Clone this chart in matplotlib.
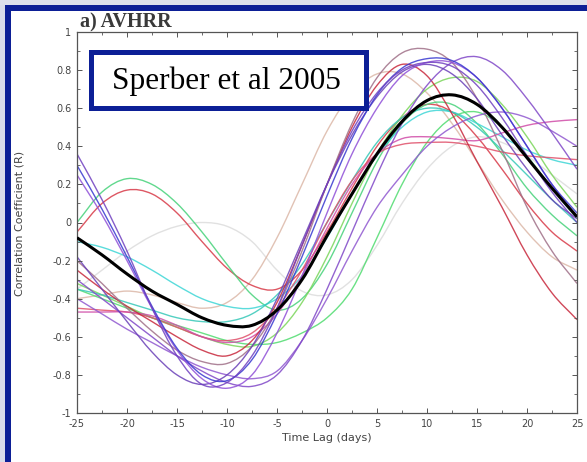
import matplotlib.pyplot as plt
from matplotlib.patches import Rectangle, PathPatch
from matplotlib.path import Path
import numpy as np

# lag axis (days), every 2.5 days
lags = [-25, -22.5, -20, -17.5, -15, -12.5, -10, -7.5, -5, -2.5, 0,
        2.5, 5, 7.5, 10, 12.5, 15, 17.5, 20, 22.5, 25]

# correlation curves of the individual models
purple1 = [0.36, 0.12, -0.15, -0.45, -0.70, -0.85, -0.84, -0.70, -0.45, -0.12, 0.20,
           0.48, 0.68, 0.80, 0.84, 0.82, 0.72, 0.55, 0.35, 0.16, 0.00]
blue1 = [0.30, 0.07, -0.18, -0.44, -0.66, -0.80, -0.83, -0.72, -0.48, -0.18, 0.14,
         0.44, 0.67, 0.81, 0.86, 0.85, 0.76, 0.60, 0.40, 0.20, 0.05]
purple2 = [0.25, 0.04, -0.20, -0.45, -0.67, -0.82, -0.87, -0.80, -0.58, -0.28, 0.05,
           0.36, 0.60, 0.77, 0.84, 0.84, 0.76, 0.60, 0.40, 0.20, 0.03]
purple3 = [-0.18, -0.35, -0.52, -0.68, -0.80, -0.85, -0.80, -0.65, -0.40, -0.10, 0.20,
           0.46, 0.66, 0.79, 0.83, 0.78, 0.65, 0.46, 0.28, 0.12, 0.02]
purple4 = [-0.30, -0.40, -0.50, -0.60, -0.70, -0.78, -0.84, -0.86, -0.80, -0.62, -0.35,
           -0.05, 0.25, 0.52, 0.72, 0.84, 0.87, 0.80, 0.65, 0.47, 0.28]
purple5 = [-0.40, -0.48, -0.56, -0.63, -0.70, -0.76, -0.80, -0.82, -0.78, -0.62, -0.40,
           -0.15, 0.08, 0.25, 0.40, 0.50, 0.56, 0.58, 0.55, 0.48, 0.40]
green1 = [0.00, 0.16, 0.23, 0.20, 0.10, -0.05, -0.22, -0.38, -0.46, -0.40, -0.22,
          0.05, 0.32, 0.52, 0.62, 0.62, 0.52, 0.36, 0.18, 0.04, -0.07]
green2 = [-0.32, -0.38, -0.44, -0.50, -0.55, -0.60, -0.64, -0.65, -0.58, -0.42, -0.18,
          0.10, 0.36, 0.56, 0.70, 0.76, 0.74, 0.62, 0.45, 0.25, 0.08]
green3 = [-0.35, -0.40, -0.45, -0.50, -0.54, -0.58, -0.62, -0.64, -0.63, -0.58, -0.50,
          -0.35, -0.08, 0.20, 0.42, 0.55, 0.58, 0.50, 0.35, 0.18, 0.02]
cyan1 = [-0.10, -0.13, -0.18, -0.25, -0.33, -0.40, -0.44, -0.45, -0.40, -0.28, -0.08,
         0.15, 0.35, 0.50, 0.58, 0.58, 0.52, 0.45, 0.38, 0.33, 0.30]
cyan2 = [-0.35, -0.38, -0.42, -0.46, -0.50, -0.52, -0.52, -0.48, -0.38, -0.22, 0.00,
         0.22, 0.42, 0.55, 0.60, 0.58, 0.50, 0.38, 0.25, 0.12, 0.00]
red1 = [-0.05, 0.10, 0.17, 0.15, 0.05, -0.10, -0.24, -0.33, -0.35, -0.25, -0.05,
        0.18, 0.40, 0.55, 0.62, 0.58, 0.45, 0.28, 0.10, -0.05, -0.15]
red2 = [-0.25, -0.35, -0.44, -0.52, -0.60, -0.67, -0.70, -0.62, -0.42, -0.12, 0.20,
        0.50, 0.72, 0.83, 0.77, 0.57, 0.32, 0.08, -0.17, -0.37, -0.51]
red3 = [-0.45, -0.46, -0.47, -0.50, -0.55, -0.60, -0.62, -0.58, -0.45, -0.25, 0.00,
        0.22, 0.36, 0.41, 0.42, 0.42, 0.40, 0.37, 0.35, 0.34, 0.33]
pink1 = [-0.47, -0.47, -0.47, -0.49, -0.54, -0.60, -0.63, -0.60, -0.48, -0.28, -0.03,
         0.20, 0.36, 0.44, 0.45, 0.44, 0.43, 0.47, 0.51, 0.53, 0.54]
mauve1 = [-0.20, -0.32, -0.45, -0.57, -0.67, -0.73, -0.74, -0.65, -0.45, -0.15, 0.20,
          0.52, 0.76, 0.89, 0.91, 0.84, 0.65, 0.38, 0.08, -0.15, -0.32]
tan1 = [-0.40, -0.38, -0.36, -0.38, -0.42, -0.45, -0.42, -0.30, -0.08, 0.20, 0.48,
        0.68, 0.78, 0.78, 0.68, 0.52, 0.32, 0.12, -0.05, -0.18, -0.25]
grey1 = [-0.35, -0.25, -0.15, -0.07, -0.02, 0.00, -0.02, -0.10, -0.25, -0.36, -0.38,
         -0.30, -0.12, 0.10, 0.28, 0.40, 0.45, 0.42, 0.35, 0.25, 0.15]

# ensemble mean
mean_r = [-0.08, -0.17, -0.27, -0.36, -0.43, -0.50, -0.54, -0.54, -0.46, -0.30, -0.07,
          0.15, 0.36, 0.53, 0.64, 0.67, 0.62, 0.50, 0.34, 0.18, 0.03]

curves = [
    (grey1, '#dcdcdc'), (tan1, '#dcb8a8'),
    (red1, '#d83a48'), (green1, '#46d27a'), (cyan1, '#3ed6d6'),
    (green2, '#7ad65a'), (green3, '#50dc70'), (cyan2, '#36c8b8'),
    (red3, '#e0506a'), (pink1, '#d04ca8'), (red2, '#c8283c'),
    (mauve1, '#a07088'), (purple5, '#9058d0'), (purple4, '#8048c8'),
    (purple3, '#6a40b8'), (purple2, '#9050d8'), (blue1, '#3838d0'),
    (purple1, '#7040c0'),
]


def smooth_line(ax, x, y, **kw):
    # draw a curve through the points with cubic Bezier segments
    x = np.asarray(x, float)
    y = np.asarray(y, float)
    n = len(x)
    dy = np.zeros(n)
    dy[1:-1] = (y[2:] - y[:-2]) / (x[2:] - x[:-2])
    dy[0] = (y[1] - y[0]) / (x[1] - x[0])
    dy[-1] = (y[-1] - y[-2]) / (x[-1] - x[-2])
    verts = [(x[0], y[0])]
    codes = [Path.MOVETO]
    for i in range(n - 1):
        h = (x[i + 1] - x[i]) / 3
        verts += [(x[i] + h, y[i] + dy[i] * h),
                  (x[i + 1] - h, y[i + 1] - dy[i + 1] * h),
                  (x[i + 1], y[i + 1])]
        codes += [Path.CURVE4] * 3
    ax.add_patch(PathPatch(Path(verts, codes), facecolor='none', **kw))


W, H = 587, 462
fig = plt.figure(figsize=(W / 100, H / 100), dpi=100, facecolor='white')

# slide background and blue frame
fig.add_artist(Rectangle((0, 0), 5 / W, 1, transform=fig.transFigure,
                         facecolor='#d9dcea', edgecolor='none', zorder=-2))
fig.add_artist(Rectangle((0, 457 / H), 1, 5 / H, transform=fig.transFigure,
                         facecolor='#dde0ec', edgecolor='none', zorder=-2))
fig.add_artist(Rectangle((5 / W, 0), 6 / W, 457 / H, transform=fig.transFigure,
                         facecolor='#0c1f96', edgecolor='none', zorder=-1))
fig.add_artist(Rectangle((5 / W, 451 / H), 1, 6 / H, transform=fig.transFigure,
                         facecolor='#0c1f96', edgecolor='none', zorder=-1))

ax = fig.add_axes([77 / W, 49 / H, 500 / W, 381 / H])

for vals, col in curves:
    smooth_line(ax, lags, vals, edgecolor=col, lw=1.0, alpha=0.85)
smooth_line(ax, lags, mean_r, edgecolor='black', lw=2.2, zorder=3)

ax.set_xlim(-25, 25)
ax.set_ylim(-1, 1)

xt = np.arange(-25, 26, 5)
ax.set_xticks(xt)
ax.set_xticklabels([str(v) for v in xt])
ax.set_xticks(np.arange(-25, 26, 2.5), minor=True)
yt = [-1, -0.8, -0.6, -0.4, -0.2, 0, 0.2, 0.4, 0.6, 0.8, 1]
ax.set_yticks(yt)
ax.set_yticklabels(['-1', '-0.8', '-0.6', '-0.4', '-0.2', '0',
                    '0.2', '0.4', '0.6', '0.8', '1'])
ax.set_yticks(np.arange(-1, 1.01, 0.1), minor=True)

ax.tick_params(which='both', direction='in', top=True, right=True,
               color='#555555', labelsize=7, labelcolor='#444444')
ax.tick_params(which='major', length=3.5, width=0.7, pad=4)
ax.tick_params(which='minor', length=2, width=0.6)
for s in ax.spines.values():
    s.set_color('#555555')
    s.set_linewidth(0.9)

ax.set_xlabel('Time Lag (days)', fontsize=8, color='#444444', labelpad=3)
fig.text(20 / W, 1 - 223 / H, 'Correlation Coefficient (R)', rotation=90,
         fontsize=8, color='#444444', ha='center', va='center')

fig.text(80 / W, 1 - 27 / H, 'a) AVHRR', family='Liberation Serif',
         fontsize=14.5, fontweight='bold', color='#3a3a3a',
         ha='left', va='baseline')

# citation box
fig.add_artist(Rectangle((90.5 / W, 1 - 107.5 / H), 275 / W, 55 / H,
                         transform=fig.transFigure, facecolor='white',
                         edgecolor='#0c1f96', lw=3.6, zorder=5))
fig.text(226 / W, 1 - 81 / H, 'Sperber et al 2005', family='Liberation Serif',
         fontsize=22.5, color='black', ha='center', va='center', zorder=6)

fig.savefig('out.png', dpi=100)
